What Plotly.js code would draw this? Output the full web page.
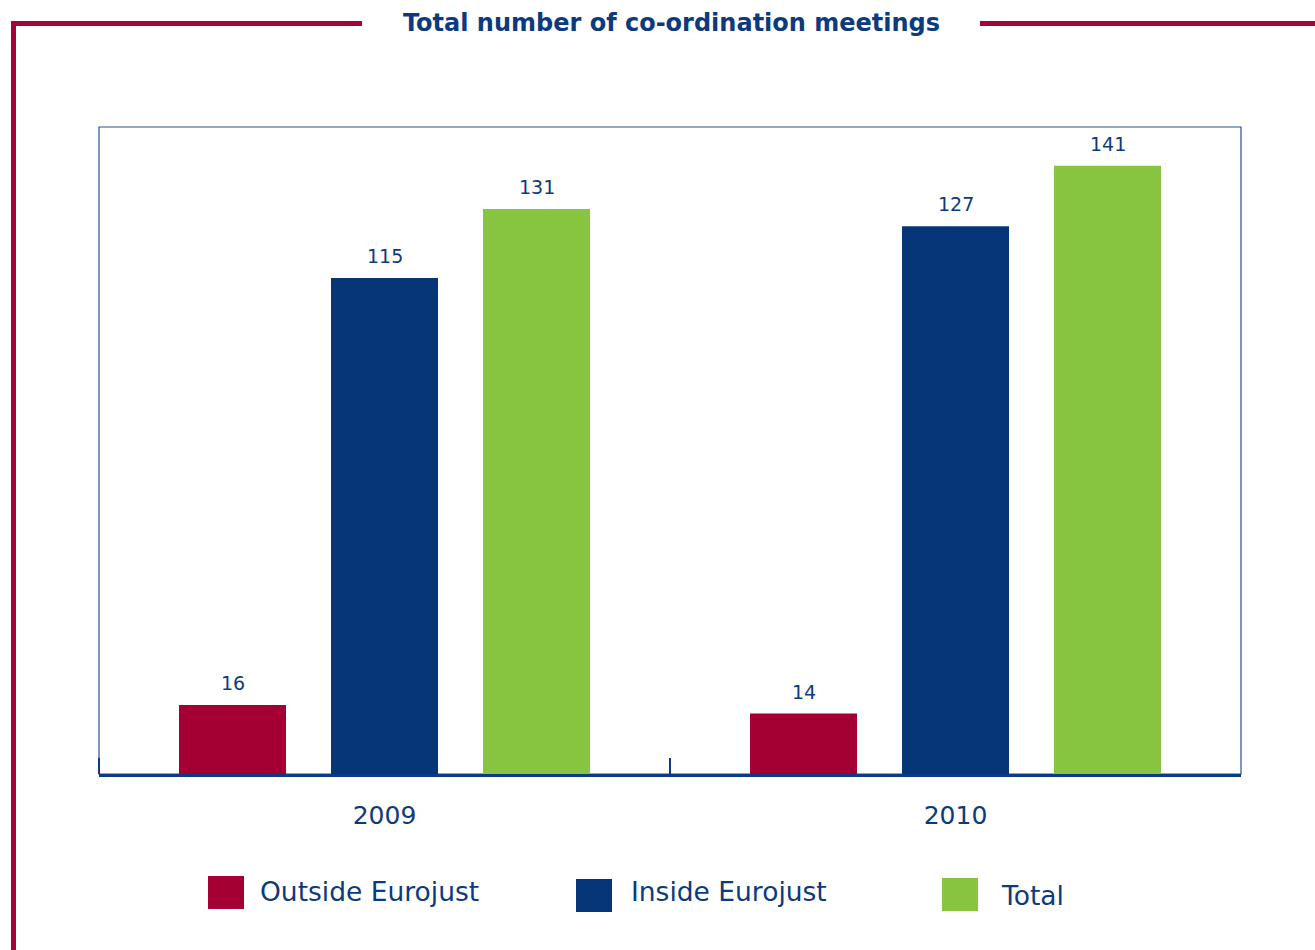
<!DOCTYPE html>
<html>
<head>
<meta charset="utf-8">
<script src="https://cdn.plot.ly/plotly-3.0.1.min.js"></script>
<style>html,body{margin:0;padding:0;background:#fff;}#chart{width:1315px;height:950px;}</style>
</head>
<body>
<div id="chart"></div>
<script>
const years = ["2009", "2010"];
const seriesNames = ["Outside Eurojust", "Inside Eurojust", "Total"];
const outsideValues = [16, 14];
const insideValues = [115, 127];
const totalValues = [131, 141];
const seriesColors = ["#a50034", "#063678", "#87c540"];
const chartTitle = "Total number of co-ordination meetings";

const W = 1315, H = 950;
const L = 99, R = 74, T = 127, B = 176;
const pw = W - L - R, ph = H - T - B;
const px = x => (x - L) / pw;
const py = y => (H - B - y) / ph;
const textColor = "#0b3a7e";
const FONT = "DejaVu Sans, Verdana, sans-serif";
const slotPx = 152;

const allValues = [outsideValues, insideValues, totalValues];
const traces = allValues.map((vals, i) => ({
  type: "bar",
  name: seriesNames[i],
  x: years,
  y: vals,
  marker: {color: seriesColors[i], line: {width: 0}},
  showlegend: false,
  hoverinfo: "x+y+name"
}));

const red = "#a8003a";
const shapes = [
  {type: "line", xref: "paper", yref: "paper", x0: px(13.5), x1: px(13.5), y0: py(21), y1: py(960), line: {color: red, width: 5}},
  {type: "line", xref: "paper", yref: "paper", x0: px(11), x1: px(362), y0: py(23.5), y1: py(23.5), line: {color: red, width: 5}},
  {type: "line", xref: "paper", yref: "paper", x0: px(980), x1: px(1320), y0: py(23.5), y1: py(23.5), line: {color: red, width: 5}},
  {type: "rect", xref: "paper", yref: "paper", x0: 0, x1: 1, y0: 0, y1: 1, line: {color: "#2c5190", width: 1.2}, layer: "below"},
  {type: "line", xref: "paper", yref: "paper", x0: 0, x1: 0, y0: 0, y1: py(758), line: {color: "#0b3a86", width: 2}}
];

const annotations = [];
allValues.forEach((vals, i) => {
  vals.forEach((v, j) => {
    annotations.push({xref: "x", yref: "y", x: j, y: v, xshift: (i - 1) * slotPx, yshift: 22, yanchor: "middle", xanchor: "center", showarrow: false, text: String(v), font: {family: FONT, size: 19, color: textColor}});
  });
});

const legendSquares = [[208, 876], [576, 879], [942, 878]];
const legendText = [[258, 892], [629, 892], [999, 895]];
seriesNames.forEach((n, i) => {
  const [sx, sy] = legendSquares[i];
  shapes.push({type: "rect", xref: "paper", yref: "paper", x0: px(sx), x1: px(sx + 36), y0: py(sy), y1: py(sy + 33), fillcolor: seriesColors[i], line: {width: 0}});
  annotations.push({xref: "paper", yref: "paper", x: px(legendText[i][0]), y: py(legendText[i][1]), xanchor: "left", yanchor: "middle", showarrow: false, text: n, font: {family: FONT, size: 26.5, color: textColor}});
});

const layout = {
  width: W, height: H,
  margin: {l: L, r: R, t: T, b: B, pad: 0},
  paper_bgcolor: "#fff", plot_bgcolor: "#fff",
  title: {text: "<b>" + chartTitle + "</b>", x: 671.5 / W, xanchor: "center", y: 1 - 23 / H, yanchor: "middle", yref: "container", xref: "container", font: {family: FONT, size: 24, color: textColor}},
  barmode: "group",
  bargap: 0.2014,
  bargroupgap: 0.296,
  xaxis: {
    type: "category",
    range: [-0.5, 1.5],
    autorange: false,
    showline: true, linecolor: "#0b3a86", linewidth: 2.5,
    ticks: "inside", tickson: "boundaries", ticklen: 16, tickwidth: 2, tickcolor: "#0b3a86",
    showgrid: false, zeroline: false,
    tickfont: {family: FONT, size: 25, color: textColor},
    ticklabelstandoff: 17
  },
  yaxis: {range: [0, 150], autorange: false, visible: false, showgrid: false, zeroline: false, fixedrange: true},
  shapes: shapes,
  annotations: annotations,
  showlegend: false
};

Plotly.newPlot("chart", traces, layout, {displayModeBar: false});
</script>
</body>
</html>
